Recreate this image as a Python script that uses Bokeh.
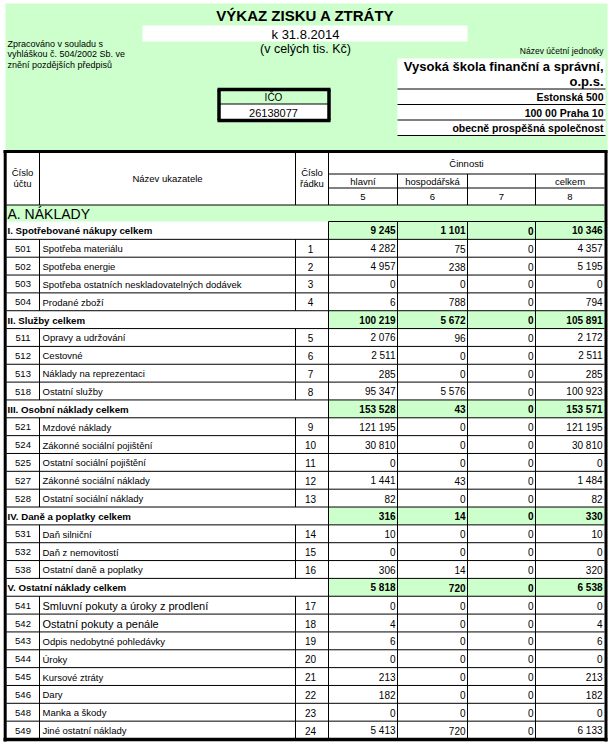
from bokeh.plotting import figure
from bokeh.models import Range1d, ColumnDataSource
from bokeh.embed import file_html
from bokeh.resources import INLINE
from bokeh.core.properties import value

# ---------------- data ----------------
title = "VÝKAZ ZISKU A ZTRÁTY"
date_label = "k 31.8.2014"
unit_label = "(v celých tis. Kč)"
note_lines = ["Zpracováno v souladu s", "vyhláškou č. 504/2002 Sb. ve", "znění pozdějších předpisů"]
entity_caption = "Název účetní jednotky"
entity_lines = ["Vysoká škola finanční a správní,", "o.p.s."]
address_lines = ["Estonská 500", "100 00 Praha 10", "obecně prospěšná společnost"]
ico_label = "IČO"
ico_value = "26138077"

hdr_acct = ["Číslo", "účtu"]
hdr_name = "Název ukazatele"
hdr_rownum = ["Číslo", "řádku"]
hdr_group = "Činnosti"
hdr_cols = ["hlavní", "hospodářská", "", "celkem"]
hdr_colnums = ["5", "6", "7", "8"]
section_a = "A. NÁKLADY"

row_kind = ["sec", "item", "item", "item", "item",
            "sec", "item", "item", "item", "item",
            "sec", "item", "item", "item", "item", "item",
            "sec", "item", "item", "item",
            "sec", "item", "item", "item", "item", "item", "item", "item", "item"]
row_acct = ["", "501", "502", "503", "504",
            "", "511", "512", "513", "518",
            "", "521", "524", "525", "527", "528",
            "", "531", "532", "538",
            "", "541", "542", "543", "544", "545", "546", "548", "549"]
row_name = ["I. Spotřebované nákupy celkem", "Spotřeba materiálu", "Spotřeba energie",
            "Spotřeba ostatních neskladovatelných dodávek", "Prodané zboží",
            "II. Služby celkem", "Opravy a udržování", "Cestovné", "Náklady na reprezentaci", "Ostatní služby",
            "III. Osobní náklady celkem", "Mzdové náklady", "Zákonné sociální pojištění",
            "Ostatní sociální pojištění", "Zákonné sociální náklady", "Ostatní sociální náklady",
            "IV. Daně a poplatky celkem", "Daň silniční", "Daň z nemovitostí", "Ostatní daně a poplatky",
            "V. Ostatní náklady celkem", "Smluvní pokuty a úroky z prodlení", "Ostatní pokuty a penále",
            "Odpis nedobytné pohledávky", "Úroky", "Kursové ztráty", "Dary", "Manka a škody",
            "Jiné ostatní náklady"]
row_num = ["", "1", "2", "3", "4",
           "", "5", "6", "7", "8",
           "", "9", "10", "11", "12", "13",
           "", "14", "15", "16",
           "", "17", "18", "19", "20", "21", "22", "23", "24"]
val_hlavni = [9245, 4282, 4957, 0, 6,
              100219, 2076, 2511, 285, 95347,
              153528, 121195, 30810, 0, 1441, 82,
              316, 10, 0, 306,
              5818, 0, 4, 6, 0, 213, 182, 0, 5413]
val_hosp = [1101, 75, 238, 0, 788,
            5672, 96, 0, 0, 5576,
            43, 0, 0, 0, 43, 0,
            14, 0, 0, 14,
            720, 0, 0, 0, 0, 0, 0, 0, 720]
val_7 = [0, 0, 0, 0, 0,
         0, 0, 0, 0, 0,
         0, 0, 0, 0, 0, 0,
         0, 0, 0, 0,
         0, 0, 0, 0, 0, 0, 0, 0, 0]
val_celkem = [10346, 4357, 5195, 0, 794,
              105891, 2172, 2511, 285, 100923,
              153571, 121195, 30810, 0, 1484, 82,
              330, 10, 0, 320,
              6538, 0, 4, 6, 0, 213, 182, 0, 6133]

# ---------------- style / layout ----------------
FONT = "Liberation Sans"
GREEN = "#CCFFCC"
BIG_NAME_ACCTS = {"541", "542"}

p = figure(width=610, height=744, x_range=Range1d(0, 610), y_range=Range1d(744, 0),
           output_backend="svg", toolbar_location=None, min_border=0,
           x_axis_location=None, y_axis_location=None)
p.grid.visible = False
p.outline_line_color = None
p.background_fill_color = "white"
p.border_fill_color = "white"

segs = {}


def seg(x0, y0, x1, y1, w=1.0):
    d = segs.setdefault(w, dict(x0=[], y0=[], x1=[], y1=[]))
    d["x0"].append(x0); d["y0"].append(y0); d["x1"].append(x1); d["y1"].append(y1)


def box(l, r, t, b, color):
    p.quad(left=[l], right=[r], top=[t], bottom=[b], fill_color=color, line_color=None)


def texts(xs, ys, ss, size, align="left", bold=False):
    src = ColumnDataSource(dict(x=list(xs), y=list(ys), t=list(ss)))
    p.text(x="x", y="y", text="t", source=src, text_font=value(FONT),
           text_font_size=f"{size}px", text_align=align, text_baseline="middle",
           text_font_style="bold" if bold else "normal", text_color="black")


def fmt(v):
    return f"{v:,}".replace(",", " ")


# ---- top block ----
box(5, 607, 3, 150, GREEN)
box(142, 467, 25, 41, "white")
texts([305], [15], [title], 15, "center", True)
texts([305], [33.5], [date_label], 13, "center")
texts([305], [48], [unit_label], 12.5, "center")
texts([7, 7, 7], [43, 53.5, 64], note_lines, 9)
texts([603], [50], [entity_caption], 8.5, "right")

box(397, 605, 58, 135, "white")
texts([603, 603], [65.5, 81], entity_lines, 13, "right", True)
for yy in (88.5, 104, 119.5, 135):
    seg(397, yy, 605, yy, 1)
texts([603, 603, 603], [96.5, 112, 127.5], address_lines, 10.5, "right", True)

# IČO box
box(218, 329, 103.5, 120, "white")
seg(218, 103.5, 329, 103.5, 1)
for (a, b, c, d) in [(217, 89, 330, 89), (217, 120, 330, 120), (218.5, 89, 218.5, 120), (328.5, 89, 328.5, 120)]:
    seg(a, b, c, d, 3.5)
texts([273], [96.5], [ico_label], 10, "center")
texts([273], [112], [ico_value], 11, "center")

# ---- table ----
C = [6, 39, 295, 328, 397, 467, 535, 604]
Y_TOP, Y_CIN, Y_SUB, Y_HDR, Y_A = 152.5, 173.5, 187.5, 204.5, 221
Y_BOT = 738.5
n = len(row_kind)
rh = (Y_BOT - Y_A) / n

# header
texts([22, 22], [172, 183], hdr_acct, 9.5, "center")
texts([(C[1] + C[2]) / 2], [177.5], [hdr_name], 9.5, "center")
texts([311.5, 311.5], [172, 183], hdr_rownum, 9.5, "center")
texts([(C[3] + C[7]) / 2], [163], [hdr_group], 9.5, "center")
mids = [(C[k] + C[k + 1]) / 2 for k in range(3, 7)]
texts(mids, [181] * 4, hdr_cols, 9.5, "center")
texts(mids, [196.5] * 4, hdr_colnums, 9.5, "center")
for x in (C[1], C[2], C[3]):
    seg(x, Y_TOP, x, Y_HDR)
for x in (C[4], C[5], C[6]):
    seg(x, Y_CIN, x, Y_HDR)
seg(C[3], Y_CIN, C[7], Y_CIN)
seg(C[3], Y_SUB, C[7], Y_SUB)
seg(C[0], Y_HDR, C[7], Y_HDR)

# A row
box(C[0], C[7], Y_HDR, Y_A, GREEN)
texts([7], [(Y_HDR + Y_A) / 2 + 0.5], [section_a], 14)
seg(C[3], Y_A, C[7], Y_A)

# data rows
cols = [val_hlavni, val_hosp, val_7, val_celkem]
txt = {"acct": ([], [], []), "name": ([], [], []), "bname": ([], [], []), "sec": ([], [], []),
       "num": ([], [], []), "val": ([], [], []), "bval": ([], [], [])}


def put(key, x, y, s):
    txt[key][0].append(x); txt[key][1].append(y); txt[key][2].append(s)


for i in range(n):
    top = Y_A + i * rh
    bot = top + rh
    yc = (top + bot) / 2 + 0.5
    sec = row_kind[i] == "sec"
    if sec:
        box(C[3], C[7], top, bot, GREEN)
        put("sec", 7, yc, row_name[i])
    else:
        put("acct", 22.5, yc, row_acct[i])
        put("bname" if row_acct[i] in BIG_NAME_ACCTS else "name", 42, yc, row_name[i])
        put("num", 310, yc, row_num[i])
        seg(C[1], top, C[1], bot)
        seg(C[2], top, C[2], bot)
    for k in range(4):
        put("bval" if sec else "val", C[4 + k] - 2, yc, fmt(cols[k][i]))
    for x in (C[3], C[4], C[5], C[6]):
        seg(x, top, x, bot)
    if i < n - 1:
        seg(C[0], bot, C[7], bot)

texts(*txt["acct"], 9.5, "center")
texts(*txt["name"], 9.5)
texts(*txt["bname"], 11)
texts(*txt["sec"], 9.7, "left", True)
texts(*txt["num"], 10, "center")
texts(*txt["val"], 10, "right")
texts(*txt["bval"], 10, "right", True)

# thick outer border
seg(3, 151, 607, 151, 3)
seg(4.7, 150, 4.7, 741, 3)
seg(605.5, 150, 605.5, 741, 3)
seg(3, 739, 607, 739, 3.5)

for w, d in segs.items():
    p.segment(x0="x0", y0="y0", x1="x1", y1="y1", source=ColumnDataSource(d),
              line_color="black", line_width=w)

open("out.html", "w").write(file_html(p, INLINE))
